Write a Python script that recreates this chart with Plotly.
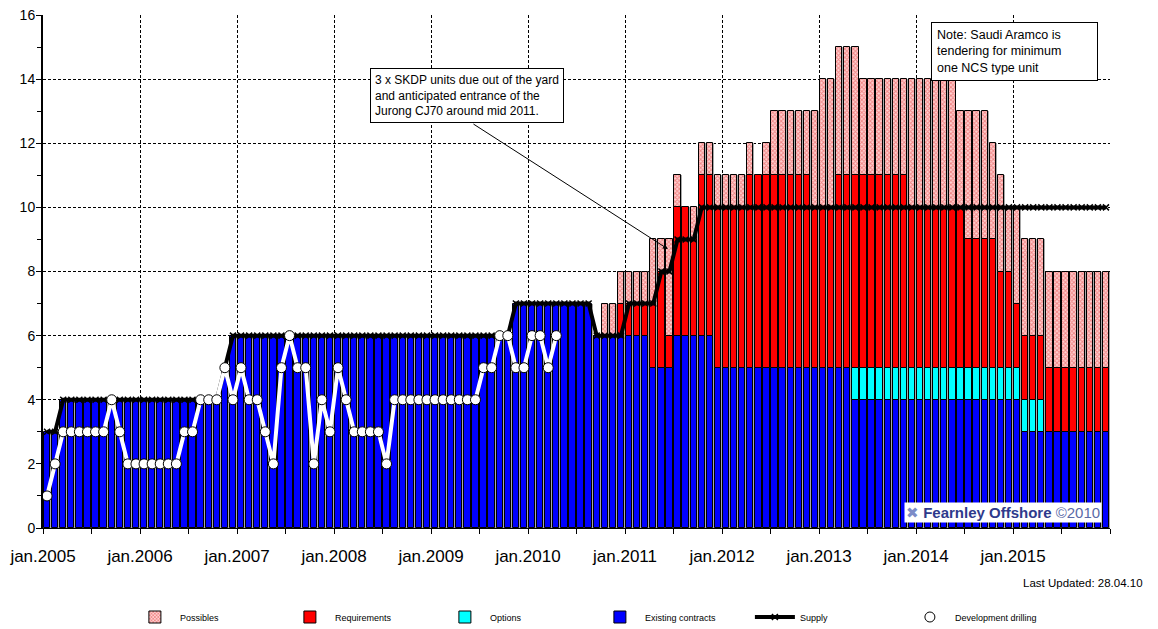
import plotly.graph_objects as go

# ---------------- data (monthly, jan.2005 .. dec.2015) ----------------
months = list(range(132))
year_labels = ["jan.2005", "jan.2006", "jan.2007", "jan.2008", "jan.2009", "jan.2010",
               "jan.2011", "jan.2012", "jan.2013", "jan.2014", "jan.2015"]

existing = [
    3, 3, 4, 4, 4, 4, 4, 4, 4, 4, 4, 4,      # 2005
    4, 4, 4, 4, 4, 4, 4, 4, 4, 4, 5, 6,      # 2006
    6, 6, 6, 6, 6, 6, 6, 6, 6, 6, 6, 6,      # 2007
    6, 6, 6, 6, 6, 6, 6, 6, 6, 6, 6, 6,      # 2008
    6, 6, 6, 6, 6, 6, 6, 6, 6, 6, 7, 7,      # 2009
    7, 7, 7, 7, 7, 7, 7, 7, 6, 6, 6, 6,      # 2010
    6, 6, 6, 5, 5, 5, 6, 6, 6, 6, 6, 5,      # 2011
    5, 5, 5, 5, 5, 5, 5, 5, 5, 5, 5, 5,      # 2012
    5, 5, 5, 5, 4, 4, 4, 4, 4, 4, 4, 4,      # 2013
    4, 4, 4, 4, 4, 4, 4, 4, 4, 4, 4, 4,      # 2014
    4, 3, 3, 3, 3, 3, 3, 3, 3, 3, 3, 3,      # 2015
]
options = [
    0, 0, 0, 0, 0, 0, 0, 0, 0, 0, 0, 0,
    0, 0, 0, 0, 0, 0, 0, 0, 0, 0, 0, 0,
    0, 0, 0, 0, 0, 0, 0, 0, 0, 0, 0, 0,
    0, 0, 0, 0, 0, 0, 0, 0, 0, 0, 0, 0,
    0, 0, 0, 0, 0, 0, 0, 0, 0, 0, 0, 0,
    0, 0, 0, 0, 0, 0, 0, 0, 0, 0, 0, 0,
    0, 0, 0, 0, 0, 0, 0, 0, 0, 0, 0, 0,
    0, 0, 0, 0, 0, 0, 0, 0, 0, 0, 0, 0,
    0, 0, 0, 0, 1, 1, 1, 1, 1, 1, 1, 1,
    1, 1, 1, 1, 1, 1, 1, 1, 1, 1, 1, 1,
    1, 1, 1, 1, 0, 0, 0, 0, 0, 0, 0, 0,
]
requirements = [
    0, 0, 0, 0, 0, 0, 0, 0, 0, 0, 0, 0,
    0, 0, 0, 0, 0, 0, 0, 0, 0, 0, 0, 0,
    0, 0, 0, 0, 0, 0, 0, 0, 0, 0, 0, 0,
    0, 0, 0, 0, 0, 0, 0, 0, 0, 0, 0, 0,
    0, 0, 0, 0, 0, 0, 0, 0, 0, 0, 0, 0,
    0, 0, 0, 0, 0, 0, 0, 0, 0, 0, 0, 1,
    1, 1, 1, 2, 3, 1, 4, 4, 3, 5, 5, 5,
    5, 5, 5, 6, 6, 6, 6, 6, 6, 6, 6, 5,
    5, 5, 6, 6, 6, 6, 6, 6, 6, 6, 6, 5,
    5, 5, 5, 5, 5, 5, 4, 4, 4, 4, 3, 3,
    2, 2, 2, 2, 2, 2, 2, 2, 2, 2, 2, 2,
]
possibles = [
    0, 0, 0, 0, 0, 0, 0, 0, 0, 0, 0, 0,
    0, 0, 0, 0, 0, 0, 0, 0, 0, 0, 0, 0,
    0, 0, 0, 0, 0, 0, 0, 0, 0, 0, 0, 0,
    0, 0, 0, 0, 0, 0, 0, 0, 0, 0, 0, 0,
    0, 0, 0, 0, 0, 0, 0, 0, 0, 0, 0, 0,
    0, 0, 0, 0, 0, 0, 0, 0, 0, 1, 1, 1,
    1, 1, 1, 2, 1, 3, 1, 0, 1, 1, 1, 1,
    1, 1, 1, 1, 0, 1, 2, 2, 2, 2, 2, 3,
    4, 4, 4, 4, 4, 3, 3, 3, 3, 3, 3, 4,
    4, 4, 4, 4, 4, 3, 4, 4, 4, 3, 3, 2,
    3, 3, 3, 3, 3, 3, 3, 3, 3, 3, 3, 3,
]
supply = [
    3, 3, 4, 4, 4, 4, 4, 4, 4, 4, 4, 4,
    4, 4, 4, 4, 4, 4, 4, 4, 4, 4, 5, 6,
    6, 6, 6, 6, 6, 6, 6, 6, 6, 6, 6, 6,
    6, 6, 6, 6, 6, 6, 6, 6, 6, 6, 6, 6,
    6, 6, 6, 6, 6, 6, 6, 6, 6, 6, 7, 7,
    7, 7, 7, 7, 7, 7, 7, 7, 6, 6, 6, 6,
    7, 7, 7, 7, 8, 8, 9, 9, 9, 10, 10, 10,
    10, 10, 10, 10, 10, 10, 10, 10, 10, 10, 10, 10,
    10, 10, 10, 10, 10, 10, 10, 10, 10, 10, 10, 10,
    10, 10, 10, 10, 10, 10, 10, 10, 10, 10, 10, 10,
    10, 10, 10, 10, 10, 10, 10, 10, 10, 10, 10, 10,
]
dev_drilling = [
    1, 2, 3, 3, 3, 3, 3, 3, 4, 3, 2, 2,
    2, 2, 2, 2, 2, 3, 3, 4, 4, 4, 5, 4,
    5, 4, 4, 3, 2, 5, 6, 5, 5, 2, 4, 3,
    5, 4, 3, 3, 3, 3, 2, 4, 4, 4, 4, 4,
    4, 4, 4, 4, 4, 4, 5, 5, 6, 6, 5, 5,
    6, 6, 5, 6,
]
dev_months = months[:len(dev_drilling)]

# ---------------- derived stacking ----------------
base_opt = existing
base_req = [a + b for a, b in zip(existing, options)]
base_pos = [a + b for a, b in zip(base_req, requirements)]
total = [a + b for a, b in zip(base_pos, possibles)]


def nz(vals):
    return [v if v else None for v in vals]


ARIAL = "Liberation Sans, Arial, sans-serif"
BAR_W = 0.78
EDGE = dict(color="black", width=1)

fig = go.Figure()

# grey filler visible in the gaps between bars
fig.add_trace(go.Bar(x=months, y=total, width=1.0, marker=dict(color="#a8a8a8", line=dict(width=0)),
                     showlegend=False, hoverinfo="skip"))

fig.add_trace(go.Bar(
    x=months, y=nz(possibles), base=base_pos, width=BAR_W, name="Possibles",
    marker=dict(color="#ffd0d0", line=EDGE,
                pattern=dict(shape="x", fgcolor="#e03c3c", size=3, solidity=0.55))))
fig.add_trace(go.Bar(x=months, y=nz(requirements), base=base_req, width=BAR_W, name="Requirements",
                     marker=dict(color="#ff0000", line=EDGE)))
fig.add_trace(go.Bar(x=months, y=nz(options), base=base_opt, width=BAR_W, name="Options",
                     marker=dict(color="#00ffff", line=EDGE)))
fig.add_trace(go.Bar(x=months, y=nz(existing), width=BAR_W, name="Existing contracts",
                     marker=dict(color="#0000ff", line=EDGE)))

fig.add_trace(go.Scatter(x=months, y=supply, mode="lines+markers", name="Supply",
                         line=dict(color="black", width=4),
                         marker=dict(symbol="x-thin", size=6, color="black",
                                     line=dict(color="black", width=1.5))))
fig.add_trace(go.Scatter(x=dev_months, y=dev_drilling, mode="lines+markers", name="Development drilling",
                         line=dict(color="white", width=4),
                         marker=dict(symbol="circle", size=10, color="white",
                                     line=dict(color="black", width=1))))

tickvals = [-0.5 + 12 * k for k in range(12)]
ticktext = year_labels + [""]

# the page body adds an 8px offset, so the figure is laid out 8px smaller / shifted
fig.update_layout(
    width=1150, height=621,
    margin=dict(l=35, r=48, t=7, b=101, autoexpand=False),
    plot_bgcolor="white", paper_bgcolor="white",
    barmode="overlay", bargap=0,
    font=dict(family=ARIAL, color="black"),
    legend=dict(orientation="h", xref="container", yref="container", x=0.106, xanchor="left",
                y=0.0193, yanchor="middle",
                entrywidth=100, entrywidthmode="pixels", itemwidth=40, tracegroupgap=0,
                font=dict(family=ARIAL, size=9), bgcolor="rgba(0,0,0,0)"),
    xaxis=dict(range=[-0.5, 131.5], tickmode="array", tickvals=tickvals, ticktext=ticktext,
               automargin=False, ticklabeloverflow="allow",
               showgrid=True, gridcolor="black", gridwidth=1, griddash="3px,2px",
               ticks="outside", ticklen=5, tickcolor="black", showline=True, linecolor="black",
               linewidth=1, zeroline=False, tickfont=dict(family=ARIAL, size=17),
               ticklabelstandoff=8,
               minor=dict(tickmode="linear", tick0=-0.5, dtick=6, ticks="outside", ticklen=5,
                          tickcolor="black", showgrid=False)),
    yaxis=dict(range=[0, 16], dtick=2, showgrid=True, gridcolor="black", gridwidth=1,
               automargin=False, ticklabeloverflow="allow",
               griddash="3px,2px", ticks="outside", ticklen=5, tickcolor="black",
               showline=True, linecolor="black", linewidth=2, zeroline=False,
               tickfont=dict(family=ARIAL, size=14), ticklabelstandoff=-2,
               minor=dict(dtick=1, ticks="outside", ticklen=4, tickcolor="black", showgrid=False)),
)

annotations = [
    dict(xref="paper", yref="paper", x=0.3065, y=0.897, xanchor="left", yanchor="top",
         text="3 x SKDP units due out of the yard<br>and anticipated entrance of the<br>Jurong CJ70 around mid 2011.",
         align="left", showarrow=False, bgcolor="white", bordercolor="black", borderwidth=1,
         borderpad=4, font=dict(family=ARIAL, size=12, color="black")),
    dict(xref="paper", yref="paper", x=0.5857, y=0.5437, ax=-196, ay=-126, text="",
         showarrow=True, arrowhead=2, arrowsize=1, arrowwidth=1, arrowcolor="black"),
    dict(xref="paper", yref="paper", x=0.8323, y=0.9864, xanchor="left", yanchor="top",
         text="Note: Saudi Aramco is<br>tendering for minimum<br>one NCS type unit",
         align="left", showarrow=False, bgcolor="white", bordercolor="black", borderwidth=1,
         borderpad=5, width=155, font=dict(family=ARIAL, size=12.5, color="black")),
    dict(xref="paper", yref="paper", x=0.9925, y=0.031, xanchor="right", yanchor="middle",
         text="<span style='color:#7d8cc8'>✖</span> <b><span style='color:#2e3a8c'>Fearnley Offshore</span></b>"
              " <span style='color:#5a6aa8'>©2010</span>",
         showarrow=False, bgcolor="white", borderpad=1,
         font=dict(family=ARIAL, size=15)),
    dict(xref="paper", yref="paper", x=1.0328, y=-0.1068, xanchor="right", yanchor="middle",
         text="Last Updated: 28.04.10", showarrow=False,
         font=dict(family=ARIAL, size=11.5, color="black")),
]
fig.update_layout(annotations=annotations)

fig.write_html("out.html")
